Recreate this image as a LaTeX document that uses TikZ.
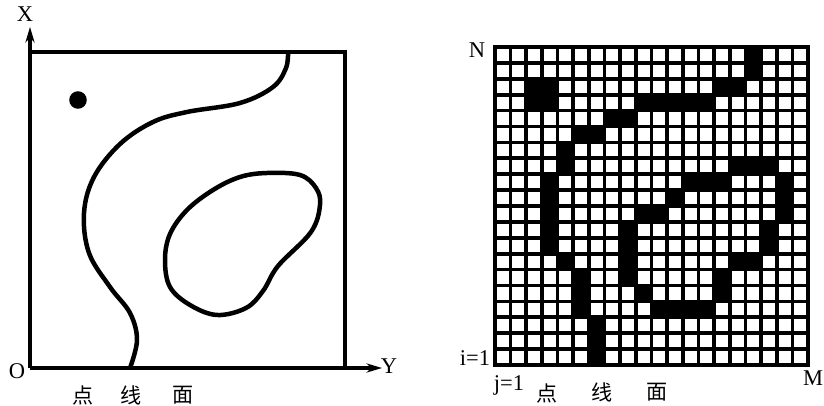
\documentclass[tikz,border=0pt]{standalone}
\usepackage{fontspec}
\setmainfont{Liberation Serif}
\newfontfamily\cjk{Noto Sans CJK SC}
\usepackage{tikz}
\usetikzlibrary{arrows.meta, positioning}
\tikzset{
  frame/.style={line width=2.4pt, line cap=round},
  axis/.style={-{Stealth[length=11pt, width=6.5pt]}, line width=2.4pt},
  curve/.style={line width=3.2pt, line join=round},
  label/.style={font=\fontsize{16}{18}\selectfont, inner sep=0pt},
  hanzi/.style={font=\fontsize{15}{17}\selectfont\cjk, inner sep=0pt}
}

\begin{document}
\begin{tikzpicture}[x=0.025cm, y=-0.025cm,
    gridline/.style={line width=2.6pt},
    cell/.style={fill=black}
]
\useasboundingbox (0,0) rectangle (824,406);
% vector: point, line, area
\coordinate (O) at (30,368);
\coordinate (xtip) at (30,27);
\coordinate (ytip) at (382,368);
\coordinate (tl) at (30,52);
\coordinate (tr) at (345,52);
\coordinate (br) at (345,368);
\draw[axis] (O) -- (xtip);
\draw[axis] (O) -- (ytip);
\draw[frame] (tl) -- (tr) -- (br);
\node[circle, fill=black, minimum size=12.5pt, inner sep=0pt] (pt) at (78,100) {};
\draw[curve] plot[smooth, tension=0.6] coordinates {
  (288,52) (286,68) (273,87) (240,103) (187,112) (153,122) (120,144)
  (94,177) (84,213) (89,253) (110,287) (130,313) (137,340) (130,368)};
\draw[curve] plot[smooth cycle, tension=0.6] coordinates {
  (267,173) (300,175) (316,188) (320,205) (311,232) (278,266) (263,291)
  (246,308) (217,315) (190,305) (170,287) (165,260) (170,234) (187,210)
  (213,190) (240,177)};
\node[label] (xlab) at (25,14) {X};
\node[label] (ylab) at (389,366) {Y};
\node[label] (olab) at (17,371) {O};
\node[hanzi] (dian1) at (83,395) {点};
\node[hanzi] (xian1) at (131,395) {线};
\node[hanzi] (mian1) at (183,395) {面};
% raster: 20 x 20 cells
\begin{scope}[shift={(495,47)}, xscale=15.65, yscale=15.9]
\foreach \c/\r in {16/0,16/1,2/2,3/2,14/2,15/2,2/3,3/3,9/3,10/3,11/3,12/3,13/3,
    7/4,8/4,5/5,6/5,4/6,4/7,15/7,16/7,17/7,3/8,12/8,13/8,14/8,18/8,
    3/9,11/9,18/9,3/10,9/10,10/10,18/10,3/11,8/11,17/11,3/12,8/12,17/12,
    4/13,8/13,15/13,16/13,5/14,8/14,14/14,5/15,9/15,14/15,
    5/16,10/16,11/16,12/16,13/16,6/17,6/18,6/19}
  \fill[cell] (\c,\r) rectangle (\c+1,\r+1);
\foreach \k in {1,...,19} {
  \draw[gridline] (\k,0) -- (\k,20);
  \draw[gridline] (0,\k) -- (20,\k);
}
\draw[line width=3.2pt] (0,0) rectangle (20,20);
\end{scope}
\node[label] (nlab) at (477,50) {N};
\node[label] (ilab) at (475,358) {i=1};
\node[label] (jlab) at (509,385) {j=1};
\node[label] (mlab) at (813,378) {M};
\node[hanzi] (dian2) at (547,393) {点};
\node[hanzi] (xian2) at (602,392) {线};
\node[hanzi] (mian2) at (657,392) {面};
\end{tikzpicture}
\end{document}
